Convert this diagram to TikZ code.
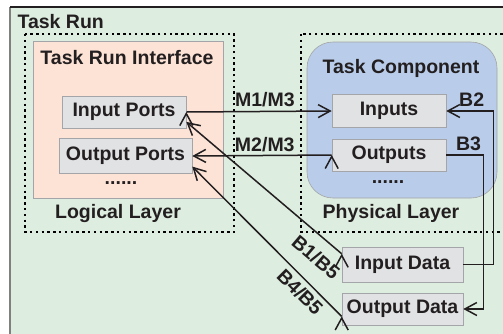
\documentclass[tikz,border=0pt]{standalone}
\usepackage{fontspec}
\setmainfont{Liberation Sans}
\usetikzlibrary{arrows.meta,positioning}
\definecolor{runfill}{HTML}{DDEDDF}
\definecolor{ifacefill}{HTML}{FCE3D6}
\definecolor{compfill}{HTML}{B9CDEA}
\definecolor{portfill}{HTML}{E1E2E4}
\definecolor{portline}{HTML}{A3A5A8}
\definecolor{txt}{HTML}{231F20}
\newcommand{\TRun}{Task Run}
\newcommand{\TRI}{Task Run Interface}
\newcommand{\TComp}{Task Component}
\newcommand{\more}{......}

\begin{document}
\begin{tikzpicture}[x=1pt,y=-1pt,text=txt,
    font=\fontsize{19.5}{21}\selectfont\bfseries,
    >={Straight Barb[length=12pt,width=13pt]},
    port/.style={draw=portline,fill=portfill,inner sep=0pt,semithick},
    layer/.style={draw=black,line width=1.3pt,dash pattern=on 2.4pt off 3.4pt},
    link/.style={->,line width=1.5pt,draw=txt}]
  \useasboundingbox (0,0) rectangle (503,333);
  \clip (0,0) rectangle (503,333);

  % task run frame
  \fill[runfill] (10,7) rectangle (520,340);
  \draw[gray,line width=2pt] (10,340) -- (10,7);
  \draw[txt,line width=1.3pt] (10,7) -- (520,7);
  \node[anchor=west] (run) at (14,22) {\TRun};

  % layers
  \draw[layer] (25,34) rectangle (234,232);
  \draw[layer] (301,34) rectangle (520,232);
  \draw[draw=portline,fill=ifacefill,semithick] (33,41) rectangle (223,198);
  \draw[draw=portline,fill=compfill,semithick,rounded corners=26pt] (307,42) rectangle (497,198);

  \node (iface)   at (127,58)  {\TRI};
  \node[port,minimum width=124pt,minimum height=32pt] (inports)  at (124,112) {Input Ports};
  \node[port,minimum width=133pt,minimum height=35pt] (outports) at (125.5,156) {Output Ports};
  \node (ldots)   at (121,183) {\more};
  \node (logical) at (118,213) {Logical Layer};

  \node (comp)    at (401,68)  {\TComp};
  \node[port,minimum width=114pt,minimum height=33pt] (inputs)  at (389,111) {Inputs};
  \node[port,minimum width=114pt,minimum height=32pt] (outputs) at (389,155) {Outputs};
  \node (pdots)   at (388,182) {\more};
  \node (physical) at (391,213) {Physical Layer};

  \node[port,minimum width=121pt,minimum height=35pt] (indata)  at (402.5,264.5) {Input Data};
  \node[port,minimum width=121pt,minimum height=32pt] (outdata) at (402.5,309) {Output Data};

  \path[link] (inports.east) edge node[above,pos=.54] {M1/M3} (inputs.west);
  \path[link] (outputs.west) edge node[above,pos=.48] {M2/M3} (outports.east);
  \path[link] (indata.170)   edge node[sloped,below=8pt,pos=.085] {B1/B5} (inports.-9);
  \path[link] (outdata.187)  edge node[sloped,below=1pt,pos=.22] {B4/B5} (outports.-9);

  \draw[link] (indata.east) -- ++(30,0) |- node[above,pos=.73] {B2} (inputs.east);
  \draw[link] (outputs.east) -- node[above,pos=.6] {B3} ++(37,0) |- (outdata.east);
\end{tikzpicture}
\end{document}
